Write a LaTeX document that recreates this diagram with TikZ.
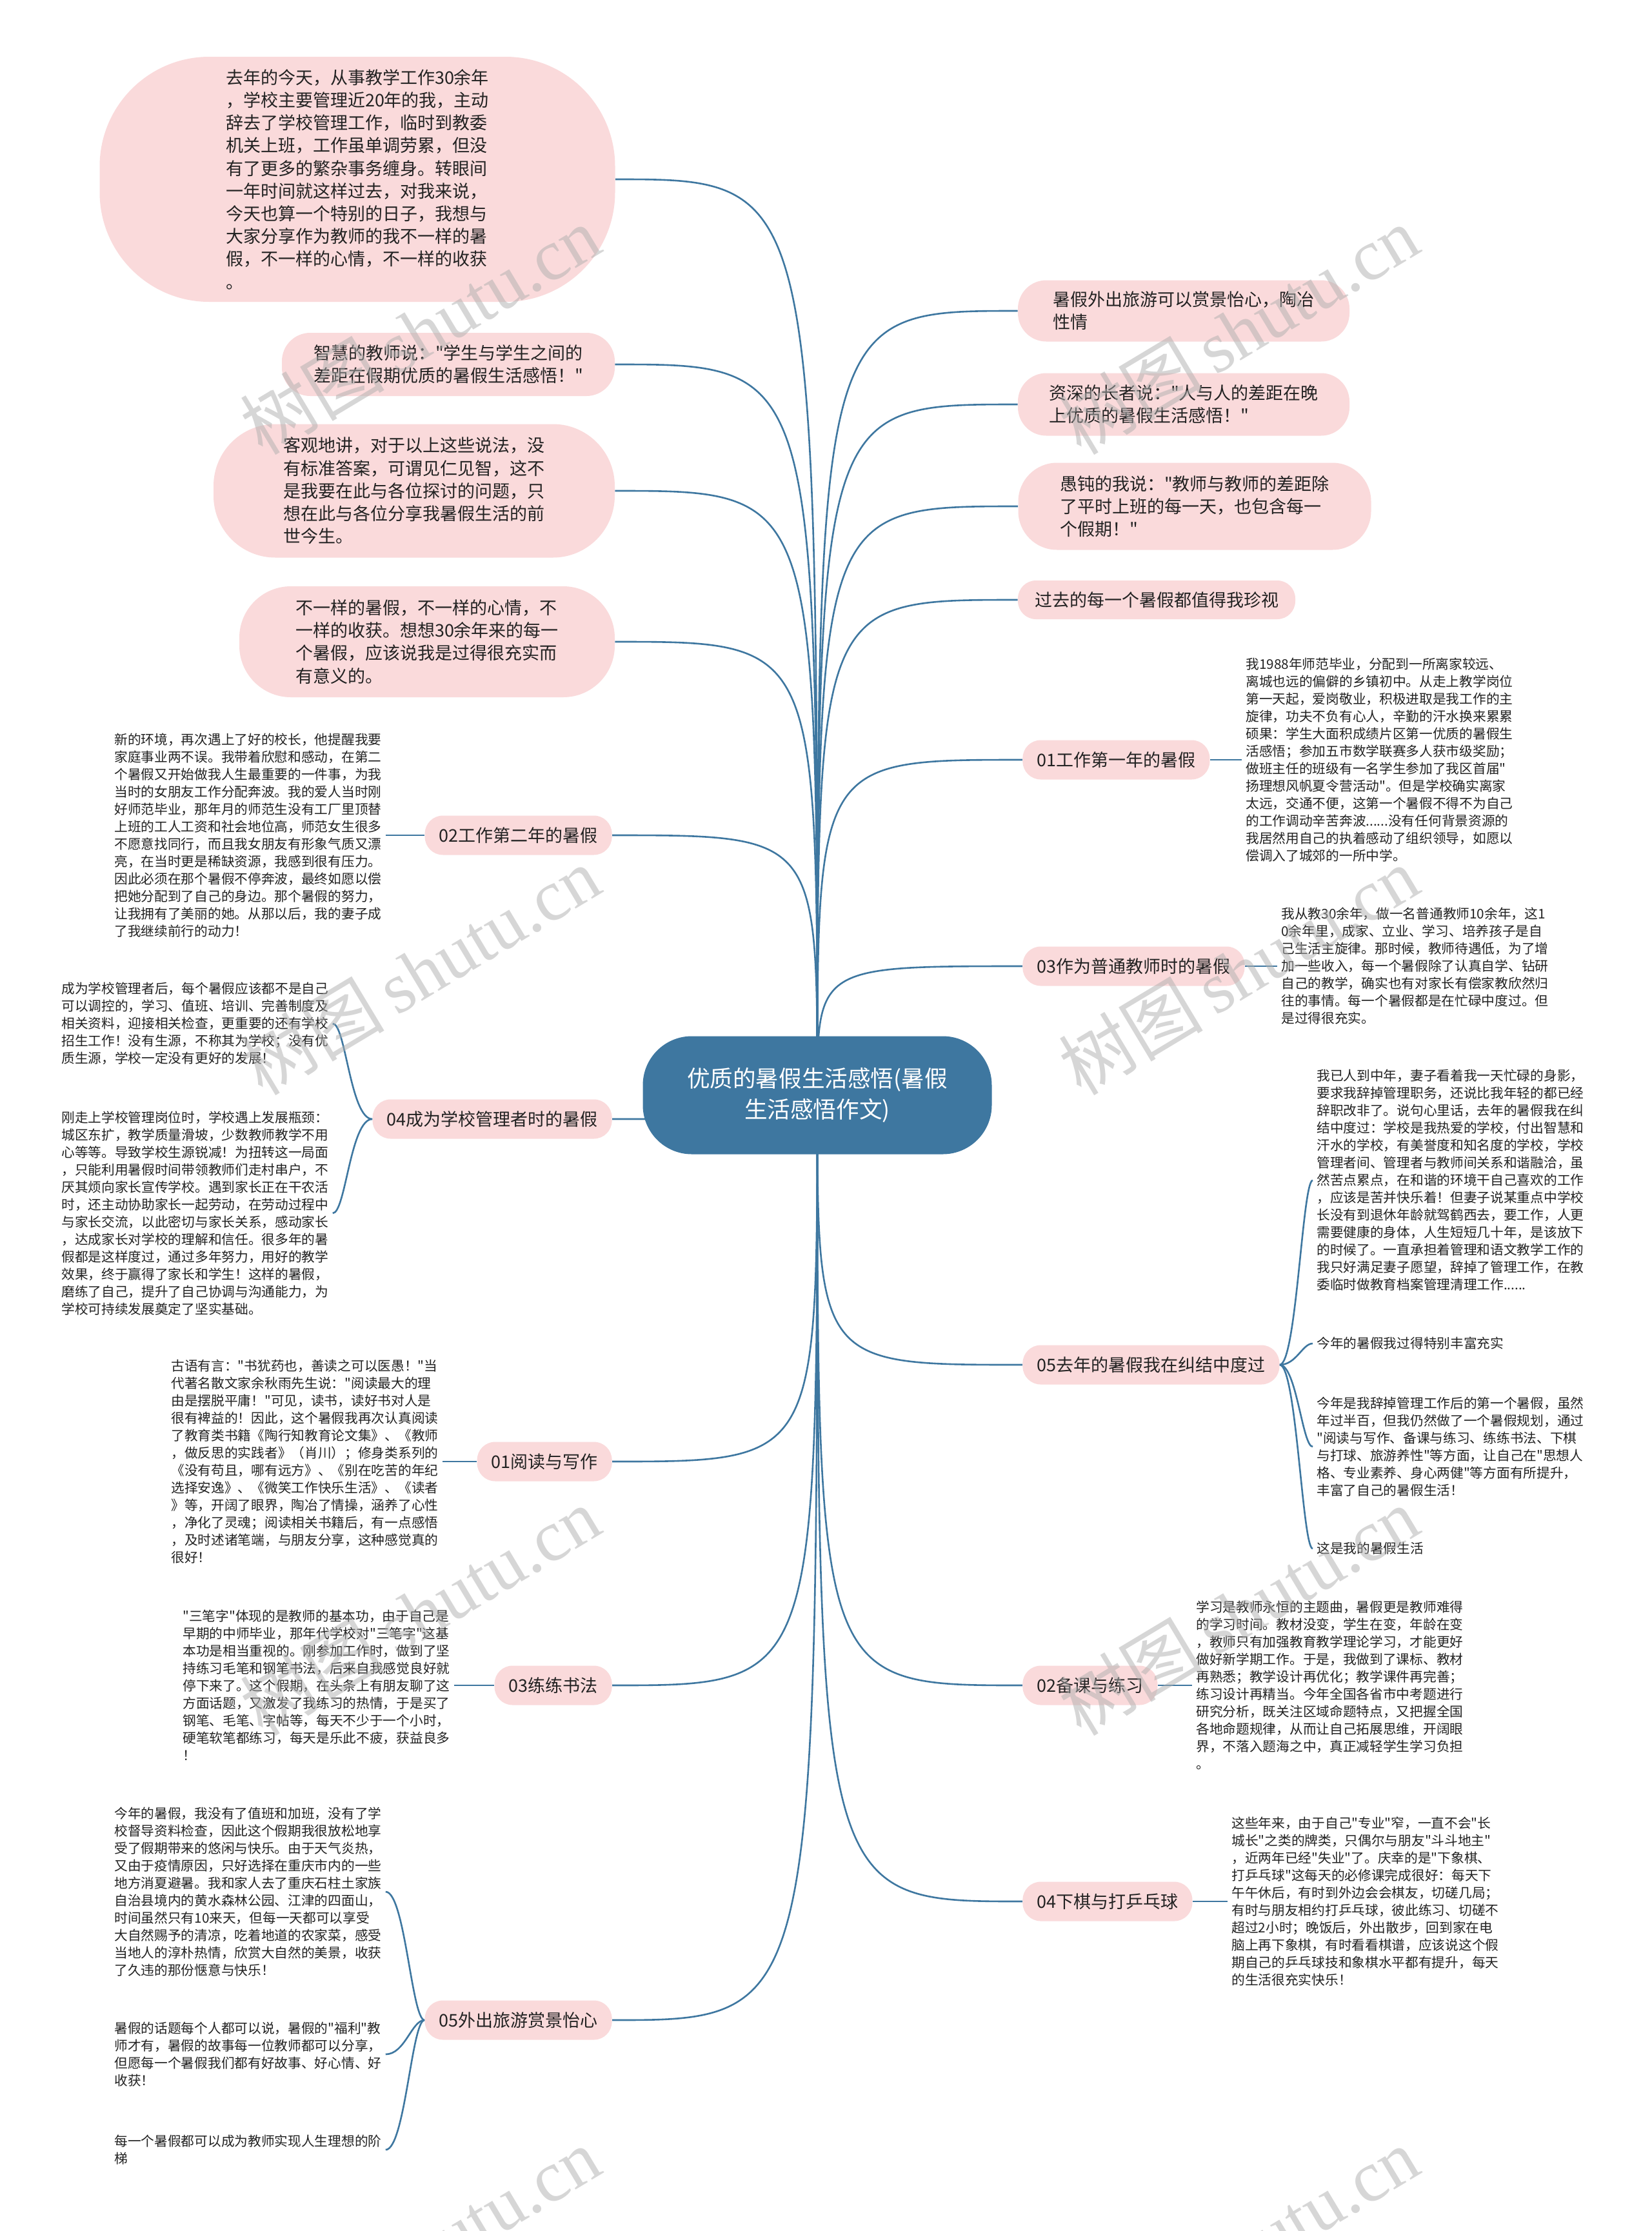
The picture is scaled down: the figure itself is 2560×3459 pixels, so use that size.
\documentclass[tikz,border=0pt]{standalone}
\usepackage{fontspec}
\setmainfont{Noto Sans CJK SC}[Ligatures=TeXOff]
\newfontfamily\wmserif{Liberation Serif}
\usetikzlibrary{backgrounds}
\definecolor{mapblue}{RGB}{62,119,160}
\definecolor{bubblepink}{RGB}{250,218,219}
\definecolor{txtgray}{RGB}{34,34,34}
\definecolor{wmgray}{RGB}{175,175,175}
\tikzset{
  bubble/.style={fill=bubblepink, text=txtgray, align=left, inner sep=0pt, font=\fontsize{13.5}{17.6}\selectfont},
  branch/.style={fill=bubblepink, text=txtgray, rounded corners=14pt, inner xsep=11pt, inner ysep=0pt, minimum height=30.5pt, font=\fontsize{13.5}{17.6}\selectfont},
  smalltext/.style={text=txtgray, align=left, inner sep=0pt, font=\fontsize{10.35}{13.5}\selectfont},
  conn/.style={draw=mapblue, line width=1.3pt},
  sub/.style={draw=mapblue, line width=1.3pt, shorten >=3pt},
  wm/.style={text=wmgray, opacity=0.5, rotate=31, inner sep=0pt, font=\fontsize{56}{60}\selectfont},
}
\begin{document}
\begin{tikzpicture}[x=0.5pt, y=-0.5pt]
\useasboundingbox (0,0) rectangle (2560,3459);

% central node
\node[fill=mapblue, text=white, rounded corners=38pt, minimum width=270.5pt, minimum height=91.5pt, align=center, inner sep=0pt, font=\fontsize{17.8}{24.3}\selectfont] (C) at (1267,1698) {优质的暑假生活感悟(暑假\\生活感悟作文)};

% left bubbles
\node[bubble, minimum width=399.5pt, minimum height=190pt, rounded corners=85pt] (L1) at (554,278) {去年的今天，从事教学工作30余年\\，学校主要管理近20年的我，主动\\辞去了学校管理工作，临时到教委\\机关上班，工作虽单调劳累，但没\\有了更多的繁杂事务缠身。转眼间\\一年时间就这样过去，对我来说，\\今天也算一个特别的日子，我想与\\大家分享作为教师的我不一样的暑\\假，不一样的心情，不一样的收获\\。};
\node[bubble, minimum width=258pt, minimum height=49pt, rounded corners=22pt] (L2) at (695,565) {智慧的教师说："学生与学生之间的\\差距在假期优质的暑假生活感悟！"};
\node[bubble, minimum width=311pt, minimum height=103.5pt, rounded corners=48pt] (L3) at (642,761) {客观地讲，对于以上这些说法，没\\有标准答案，可谓见仁见智，这不\\是我要在此与各位探讨的问题，只\\想在此与各位分享我暑假生活的前\\世今生。};
\node[bubble, minimum width=291pt, minimum height=86pt, rounded corners=40pt] (L4) at (662,995) {不一样的暑假，不一样的心情，不\\一样的收获。想想30余年来的每一\\个暑假，应该说我是过得很充实而\\有意义的。};

% right bubbles
\node[bubble, minimum width=257pt, minimum height=47.5pt, rounded corners=22pt] (R1) at (1835,482) {暑假外出旅游可以赏景怡心，陶冶\\性情};
\node[bubble, minimum width=257pt, minimum height=48.5pt, rounded corners=22pt] (R2) at (1835,627) {资深的长者说："人与人的差距在晚\\上优质的暑假生活感悟！"};
\node[bubble, minimum width=273.5pt, minimum height=67.5pt, rounded corners=30pt] (R3) at (1852,785) {愚钝的我说："教师与教师的差距除\\了平时上班的每一天，也包含每一\\个假期！"};
\node[bubble, minimum width=215pt, minimum height=30pt, rounded corners=14pt] (R4) at (1793,930) {过去的每一个暑假都值得我珍视};

% right branches
\node[branch, anchor=west] (B01) at (1585,1178) {01工作第一年的暑假};
\node[branch, anchor=west] (B03) at (1585,1498) {03作为普通教师时的暑假};
\node[branch, anchor=west] (B05r) at (1585,2116) {05去年的暑假我在纠结中度过};
\node[branch, anchor=west] (B02r) at (1585,2613) {02备课与练习};
\node[branch, anchor=west] (B04r) at (1585,2948) {04下棋与打乒乓球};

% left branches
\node[branch, anchor=east] (B02l) at (949,1295) {02工作第二年的暑假};
\node[branch, anchor=east] (B04l) at (949,1735) {04成为学校管理者时的暑假};
\node[branch, anchor=east] (B01l) at (949,2266) {01阅读与写作};
\node[branch, anchor=east] (B03l) at (949,2613) {03练练书法};
\node[branch, anchor=east] (B05l) at (949,3132) {05外出旅游赏景怡心};

% right texts
\node[smalltext, anchor=west] (T01r) at (1931,1178) {我1988年师范毕业，分配到一所离家较远、\\离城也远的偏僻的乡镇初中。从走上教学岗位\\第一天起，爱岗敬业，积极进取是我工作的主\\旋律，功夫不负有心人，辛勤的汗水换来累累\\硕果：学生大面积成绩片区第一优质的暑假生\\活感悟；参加五市数学联赛多人获市级奖励；\\做班主任的班级有一名学生参加了我区首届"\\扬理想风帆夏令营活动"。但是学校确实离家\\太远，交通不便，这第一个暑假不得不为自己\\的工作调动辛苦奔波......没有任何背景资源的\\我居然用自己的执着感动了组织领导，如愿以\\偿调入了城郊的一所中学。};
\node[smalltext, anchor=west] (T03r) at (1986,1498) {我从教30余年，做一名普通教师10余年，这1\\0余年里，成家、立业、学习、培养孩子是自\\己生活主旋律。那时候，教师待遇低，为了增\\加一些收入，每一个暑假除了认真自学、钻研\\自己的教学，确实也有对家长有偿家教欣然归\\往的事情。每一个暑假都是在忙碌中度过。但\\是过得很充实。};
\node[smalltext, anchor=west] (T05a) at (2041,1830) {我已人到中年，妻子看着我一天忙碌的身影，\\要求我辞掉管理职务，还说比我年轻的都已经\\辞职改非了。说句心里话，去年的暑假我在纠\\结中度过：学校是我热爱的学校，付出智慧和\\汗水的学校，有美誉度和知名度的学校，学校\\管理者间、管理者与教师间关系和谐融洽，虽\\然苦点累点，在和谐的环境干自己喜欢的工作\\，应该是苦并快乐着！但妻子说某重点中学校\\长没有到退休年龄就驾鹤西去，要工作，人更\\需要健康的身体，人生短短几十年，是该放下\\的时候了。一直承担着管理和语文教学工作的\\我只好满足妻子愿望，辞掉了管理工作，在教\\委临时做教育档案管理清理工作......};
\node[smalltext, anchor=west] (T05b) at (2041,2083) {今年的暑假我过得特别丰富充实};
\node[smalltext, anchor=west] (T05c) at (2041,2243) {今年是我辞掉管理工作后的第一个暑假，虽然\\年过半百，但我仍然做了一个暑假规划，通过\\"阅读与写作、备课与练习、练练书法、下棋\\与打球、旅游养性"等方面，让自己在"思想人\\格、专业素养、身心两健"等方面有所提升，\\丰富了自己的暑假生活！};
\node[smalltext, anchor=west] (T05d) at (2041,2401) {这是我的暑假生活};
\node[smalltext, anchor=west] (T02r) at (1854,2613) {学习是教师永恒的主题曲，暑假更是教师难得\\的学习时间。教材没变，学生在变，年龄在变\\，教师只有加强教育教学理论学习，才能更好\\做好新学期工作。于是，我做到了课标、教材\\再熟悉；教学设计再优化；教学课件再完善；\\练习设计再精当。今年全国各省市中考题进行\\研究分析，既关注区域命题特点，又把握全国\\各地命题规律，从而让自己拓展思维，开阔眼\\界，不落入题海之中，真正减轻学生学习负担\\。};
\node[smalltext, anchor=west] (T04r) at (1909,2948) {这些年来，由于自己"专业"窄，一直不会"长\\城长"之类的牌类，只偶尔与朋友"斗斗地主"\\，近两年已经"失业"了。庆幸的是"下象棋、\\打乒乓球"这每天的必修课完成很好：每天下\\午午休后，有时到外边会会棋友，切磋几局；\\有时与朋友相约打乒乓球，彼此练习、切磋不\\超过2小时；晚饭后，外出散步，回到家在电\\脑上再下象棋，有时看看棋谱，应该说这个假\\期自己的乒乓球技和象棋水平都有提升，每天\\的生活很充实快乐！};

% left texts
\node[smalltext, anchor=west] (T02l) at (177,1295) {新的环境，再次遇上了好的校长，他提醒我要\\家庭事业两不误。我带着欣慰和感动，在第二\\个暑假又开始做我人生最重要的一件事，为我\\当时的女朋友工作分配奔波。我的爱人当时刚\\好师范毕业，那年月的师范生没有工厂里顶替\\上班的工人工资和社会地位高，师范女生很多\\不愿意找同行，而且我女朋友有形象气质又漂\\亮，在当时更是稀缺资源，我感到很有压力。\\因此必须在那个暑假不停奔波，最终如愿以偿\\把她分配到了自己的身边。那个暑假的努力，\\让我拥有了美丽的她。从那以后，我的妻子成\\了我继续前行的动力！};
\node[smalltext, anchor=west] (T04a) at (95,1587) {成为学校管理者后，每个暑假应该都不是自己\\可以调控的，学习、值班、培训、完善制度及\\相关资料，迎接相关检查，更重要的还有学校\\招生工作！没有生源，不称其为学校；没有优\\质生源，学校一定没有更好的发展！};
\node[smalltext, anchor=west] (T04b) at (95,1881) {刚走上学校管理岗位时，学校遇上发展瓶颈：\\城区东扩，教学质量滑坡，少数教师教学不用\\心等等。导致学校生源锐减！为扭转这一局面\\，只能利用暑假时间带领教师们走村串户，不\\厌其烦向家长宣传学校。遇到家长正在干农活\\时，还主动协助家长一起劳动，在劳动过程中\\与家长交流，以此密切与家长关系，感动家长\\，达成家长对学校的理解和信任。很多年的暑\\假都是这样度过，通过多年努力，用好的教学\\效果，终于赢得了家长和学生！这样的暑假，\\磨练了自己，提升了自己协调与沟通能力，为\\学校可持续发展奠定了坚实基础。};
\node[smalltext, anchor=west] (T01l) at (265,2266) {古语有言："书犹药也，善读之可以医愚！"当\\代著名散文家余秋雨先生说："阅读最大的理\\由是摆脱平庸！"可见，读书，读好书对人是\\很有裨益的！因此，这个暑假我再次认真阅读\\了教育类书籍《陶行知教育论文集》、《教师\\，做反思的实践者》（肖川）；修身类系列的\\《没有苟且，哪有远方》、《别在吃苦的年纪\\选择安逸》、《微笑工作快乐生活》、《读者\\》等，开阔了眼界，陶冶了情操，涵养了心性\\，净化了灵魂；阅读相关书籍后，有一点感悟\\，及时述诸笔端，与朋友分享，这种感觉真的\\很好！};
\node[smalltext, anchor=west] (T03l) at (283,2613) {"三笔字"体现的是教师的基本功，由于自己是\\早期的中师毕业，那年代学校对"三笔字"这基\\本功是相当重视的。刚参加工作时，做到了坚\\持练习毛笔和钢笔书法，后来自我感觉良好就\\停下来了。这个假期，在头条上有朋友聊了这\\方面话题，又激发了我练习的热情，于是买了\\钢笔、毛笔、字帖等，每天不少于一个小时，\\硬笔软笔都练习，每天是乐此不疲，获益良多\\！};
\node[smalltext, anchor=west] (T05la) at (177,2933) {今年的暑假，我没有了值班和加班，没有了学\\校督导资料检查，因此这个假期我很放松地享\\受了假期带来的悠闲与快乐。由于天气炎热，\\又由于疫情原因，只好选择在重庆市内的一些\\地方消夏避暑。我和家人去了重庆石柱土家族\\自治县境内的黄水森林公园、江津的四面山，\\时间虽然只有10来天，但每一天都可以享受\\大自然赐予的清凉，吃着地道的农家菜，感受\\当地人的淳朴热情，欣赏大自然的美景，收获\\了久违的那份惬意与快乐！};
\node[smalltext, anchor=west] (T05lb) at (177,3185) {暑假的话题每个人都可以说，暑假的"福利"教\\师才有，暑假的故事每一位教师都可以分享，\\但愿每一个暑假我们都有好故事、好心情、好\\收获！};
\node[smalltext, anchor=west] (T05lc) at (177,3333) {每一个暑假都可以成为教师实现人生理想的阶\\梯};

\begin{scope}[on background layer]
\fill[white] (0,0) rectangle (2560,3459);
% central connectors
\foreach \n in {L1,L2,L3,L4,B02l,B04l,B01l,B03l,B05l}
  \draw[conn] (C.center) .. controls (C.center |- \n.east) .. (\n.east);
\foreach \n in {R1,R2,R3,R4,B01,B03,B05r,B02r,B04r}
  \draw[conn] (C.center) .. controls (C.center |- \n.west) .. (\n.west);
% branch to text
\draw[sub] (B01.east) -- (T01r.west);
\draw[sub] (B03.east) -- (T03r.west);
\draw[sub] (B02r.east) -- (T02r.west);
\draw[sub] (B04r.east) -- (T04r.west);
\draw[sub] (B02l.west) -- (T02l.east);
\draw[sub] (B01l.west) -- (T01l.east);
\draw[sub] (B03l.west) -- (T03l.east);
\foreach \n in {T05a,T05b,T05c,T05d}
  \draw[sub] (B05r.east) .. controls +(26,0) and +(-22,0) .. (\n.west);
\draw[sub] (B04l.west) .. controls +(-34,0) and +(26,0) .. (T04a.east);
\draw[sub] (B04l.west) .. controls +(-34,0) and +(26,0) .. (T04b.east);
\foreach \n in {T05la,T05lb,T05lc}
  \draw[sub] (B05l.west) .. controls +(-20,0) and +(36,0) .. (\n.east);
\end{scope}

% watermarks
\foreach \wx/\wy/\k in {651/512/1,1920/512/2,651/1505/3,1920/1505/4,651/2498/5,1920/2498/6,651/3491/7,1920/3491/8}
  \node[wm] (W\k) at (\wx,\wy) {树图\,{\wmserif shutu.cn}};
\end{tikzpicture}
\end{document}
